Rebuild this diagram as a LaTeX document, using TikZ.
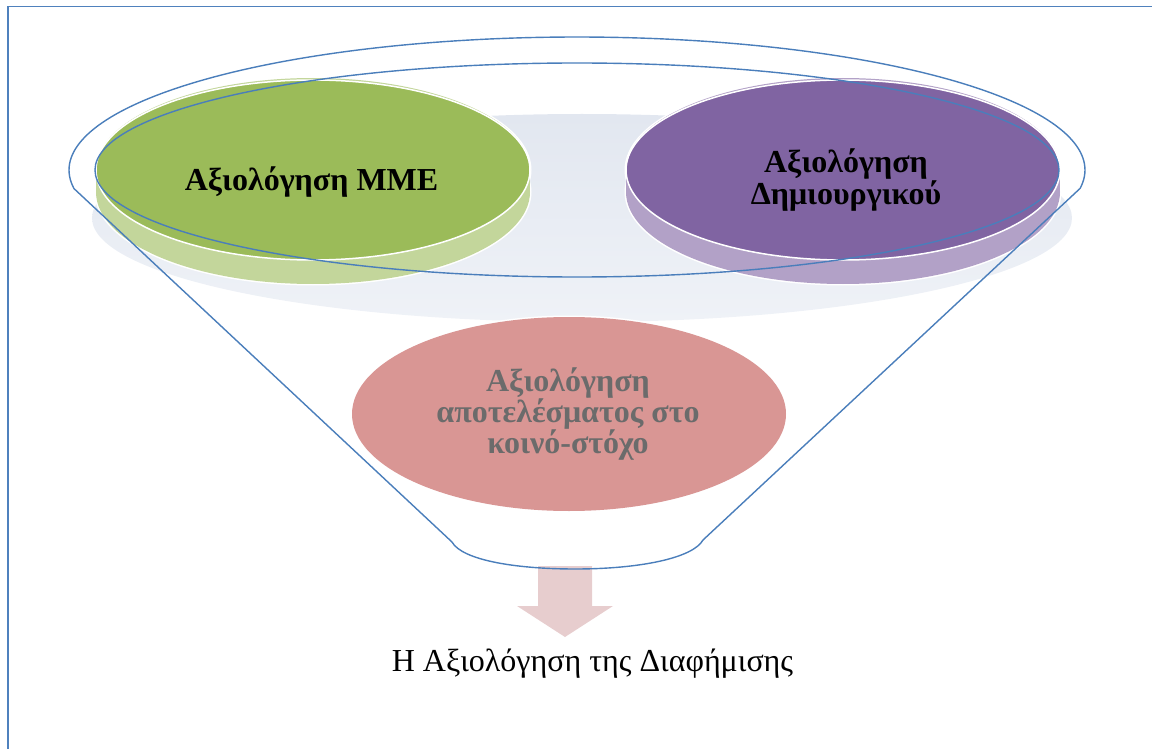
\documentclass[tikz,border=0pt]{standalone}
\usepackage{fontspec}
\setmainfont{Liberation Serif}
\definecolor{framec}{HTML}{4F81BD}
\definecolor{funnelc}{HTML}{4A7EBB}
\definecolor{greendark}{HTML}{9BBB59}
\definecolor{greenlight}{HTML}{C3D69B}
\definecolor{purpledark}{HTML}{8064A2}
\definecolor{purplelight}{HTML}{B2A1C7}
\definecolor{pinkc}{HTML}{D99694}
\definecolor{shadetop}{HTML}{E2E7F0}
\definecolor{shadebot}{HTML}{EFF2F7}
\definecolor{arrowc}{HTML}{E7CDCE}
\definecolor{graytext}{HTML}{6B6B6B}
\tikzset{
  funnelline/.style={draw=funnelc, line width=1.4pt},
  frameline/.style={draw=framec, line width=1.5pt},
  whiteedge/.style={draw=white, line width=3pt},
  boldlabel/.style={font=\fontsize{32}{32}\selectfont\bfseries, align=center, inner sep=0pt},
  caption/.style={font=\fontsize{32}{36}\selectfont, inner sep=0pt, anchor=base}
}
\begin{document}
\begin{tikzpicture}[x=1pt,y=-1pt]
\useasboundingbox (0,0) rectangle (1152,749);
% frame
\draw[frameline] (8,749) -- (8,6.5) -- (1152,6.5);
% background shadow disc
\shade[top color=shadetop, bottom color=shadebot] (582,218) ellipse [x radius=490pt, y radius=104pt];
% pink disc
\draw[whiteedge] (569,414) ellipse [x radius=217pt, y radius=97pt];
\fill[pinkc] (569,414) ellipse [x radius=217pt, y radius=97pt];
% green cylinder
\draw[whiteedge] (313,192) ellipse [x radius=217pt, y radius=92pt];
\draw[whiteedge] (313,170) ellipse [x radius=217pt, y radius=92pt];
\fill[greenlight] (313,192) ellipse [x radius=217pt, y radius=92pt];
\fill[greenlight] (313,170) ellipse [x radius=217pt, y radius=92pt];
\fill[greenlight] (96,170) rectangle (530,192);
\draw[draw=white, line width=1.5pt, fill=greendark] (313,170) ellipse [x radius=217pt, y radius=90pt];
% purple cylinder
\draw[whiteedge] (843,192) ellipse [x radius=217pt, y radius=92pt];
\draw[whiteedge] (843,170) ellipse [x radius=217pt, y radius=92pt];
\fill[purplelight] (843,192) ellipse [x radius=217pt, y radius=92pt];
\fill[purplelight] (843,170) ellipse [x radius=217pt, y radius=92pt];
\fill[purplelight] (626,170) rectangle (1060,192);
\draw[draw=white, line width=1.5pt, fill=purpledark] (843,170) ellipse [x radius=217pt, y radius=90pt];
% down arrow
\fill[arrowc] (538,566) -- (592,566) -- (592,606) -- (613,606) -- (565,637) -- (517,606) -- (538,606) -- cycle;
% funnel outline
\draw[funnelline, line join=round] (73.9,188.5) -- (452,542)
  .. controls (462,560) and (515,569) .. (575,569)
  .. controls (640,569) and (693,558) .. (703,540)
  -- (1080,188.5)
  -- plot[domain=-8:188, samples=150] ({577+508*cos(\x)},{170-133*sin(\x)});
\draw[funnelline] (577,170) ellipse [x radius=482pt, y radius=107pt];
% labels
\node[boldlabel] (mme) at (311.5,182) {Αξιολόγηση ΜΜΕ};
\node[boldlabel] (dimiourgiko) at (846,180) {Αξιολόγηση\\Δημιουργικού};
\node[boldlabel, text=graytext, font=\fontsize{32}{31}\selectfont\bfseries] (apotelesma) at (568,414) {Αξιολόγηση\\αποτελέσματος στο\\κοινό-στόχο};
\node[caption] (titlos) at (592.5,671) {Η Αξιολόγηση της Διαφήμισης};
\end{tikzpicture}
\end{document}
